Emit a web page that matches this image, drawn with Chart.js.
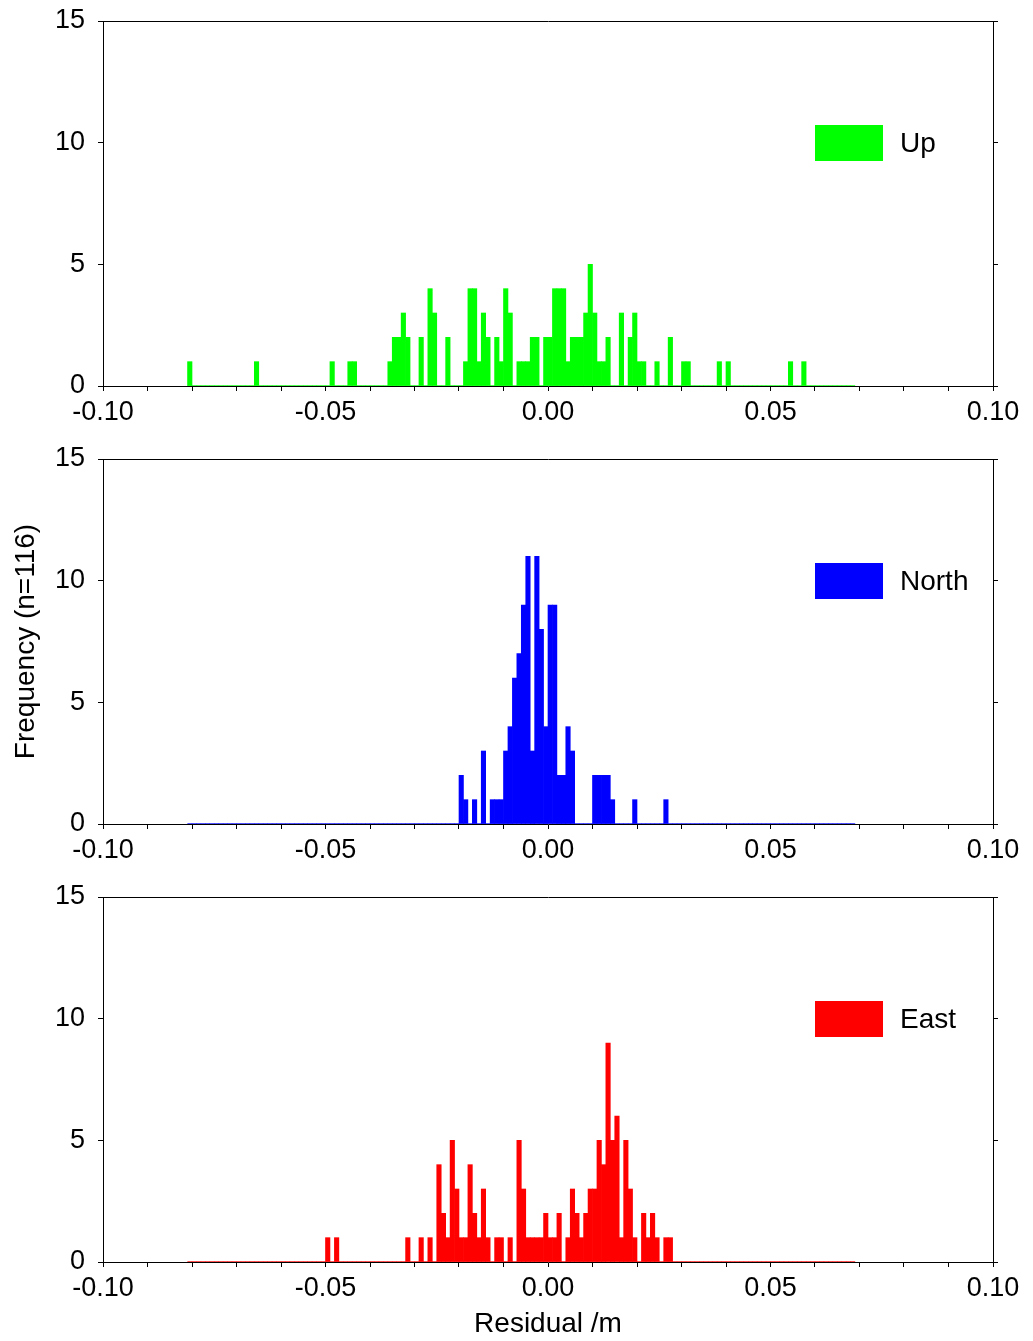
<!DOCTYPE html>
<html>
<head>
<meta charset="utf-8">
<title>Residual histograms</title>
<script src="https://cdn.jsdelivr.net/npm/chart.js@4/dist/chart.umd.min.js"></script>
<style>
  html, body { margin: 0; padding: 0; background: #fff; }
  #wrap { position: relative; width: 1033px; height: 1341px; }
  canvas { position: absolute; left: 0; display: block; }
</style>
</head>
<body>
<div id="wrap">
  <canvas id="cUp" width="1033" height="438" style="top:0px"></canvas>
  <canvas id="cNorth" width="1033" height="438" style="top:438px"></canvas>
  <canvas id="cEast" width="1033" height="465" style="top:876px"></canvas>
</div>
<script>
// Histogram bins: 150 bins of 1 mm starting at -0.081 m
const binStart = -0.081;
const binWidth = 0.001;

// Counts per bin, ten bins per row
const upCounts = [
  1,0,0,0,0,0,0,0,0,0,
  0,0,0,0,0,1,0,0,0,0,
  0,0,0,0,0,0,0,0,0,0,
  0,0,1,0,0,0,1,1,0,0,
  0,0,0,0,0,1,2,2,3,2,
  0,0,2,0,4,3,0,0,2,0,
  0,0,1,4,4,1,3,2,0,2,
  1,4,3,0,1,1,1,2,2,0,
  2,2,4,4,4,1,2,2,2,3,
  5,3,1,1,2,0,0,3,0,2,
  3,1,1,0,0,1,0,0,2,0,
  0,1,1,0,0,0,0,0,0,1,
  0,1,0,0,0,0,0,0,0,0,
  0,0,0,0,0,1,0,0,1,0,
  0,0,0,0,0,0,0,0,0,0
];
const northCounts = [
  0,0,0,0,0,0,0,0,0,0,
  0,0,0,0,0,0,0,0,0,0,
  0,0,0,0,0,0,0,0,0,0,
  0,0,0,0,0,0,0,0,0,0,
  0,0,0,0,0,0,0,0,0,0,
  0,0,0,0,0,0,0,0,0,0,
  0,2,1,0,1,0,3,0,1,1,
  1,3,4,6,7,9,11,3,11,8,
  4,9,9,2,2,4,3,0,0,0,
  0,2,2,2,2,1,0,0,0,0,
  1,0,0,0,0,0,0,1,0,0,
  0,0,0,0,0,0,0,0,0,0,
  0,0,0,0,0,0,0,0,0,0,
  0,0,0,0,0,0,0,0,0,0,
  0,0,0,0,0,0,0,0,0,0
];
const eastCounts = [
  0,0,0,0,0,0,0,0,0,0,
  0,0,0,0,0,0,0,0,0,0,
  0,0,0,0,0,0,0,0,0,0,
  0,1,0,1,0,0,0,0,0,0,
  0,0,0,0,0,0,0,0,0,1,
  0,0,1,0,1,0,4,2,1,5,
  3,1,1,4,2,1,3,1,0,1,
  1,0,1,0,5,3,1,1,1,1,
  2,1,1,2,0,1,3,2,1,2,
  3,3,5,4,9,5,6,1,5,3,
  1,0,2,1,2,1,0,1,1,0,
  0,0,0,0,0,0,0,0,0,0,
  0,0,0,0,0,0,0,0,0,0,
  0,0,0,0,0,0,0,0,0,0,
  0,0,0,0,0,0,0,0,0,0
];

const seriesLabels = ['Up', 'North', 'East'];
const seriesColors = ['#00ff00', '#0000ff', '#ff0000'];
const xTickMin = -0.10, xTickMax = 0.10, xMinorStep = 0.01;
const yTickMin = 0, yTickMax = 15, yStep = 5;
const yTitle = 'Frequency (n=116)';
const xTitle = 'Residual /m';

const FONT = '"Liberation Sans", Arial, Helvetica, sans-serif';
Chart.defaults.font.family = FONT;
Chart.defaults.color = '#000';

// Legend box drawn inside the plot area, right side
const insetLegend = {
  id: 'insetLegend',
  afterDatasetsDraw(chart, args, opts) {
    const ds = chart.data.datasets[0];
    const { ctx, chartArea } = chart;
    const x = chartArea.right - opts.offsetRight;
    const y = chartArea.top + opts.offsetTop;
    ctx.save();
    ctx.fillStyle = ds.backgroundColor;
    ctx.fillRect(x, y, opts.boxWidth, opts.boxHeight);
    ctx.fillStyle = '#000';
    ctx.font = opts.fontSize + 'px ' + FONT;
    ctx.textBaseline = 'middle';
    ctx.textAlign = 'left';
    ctx.fillText(ds.label, x + opts.boxWidth + opts.gap, y + opts.boxHeight / 2 + 1);
    ctx.restore();
  }
};

function xLabel(v) {
  const r = Math.round(v * 100);
  if (r % 5 !== 0) return '';
  return (r / 100).toFixed(2);
}

// Fixed axis sizes so every panel shares the same plot frame
function fixSize(prop, value) {
  return s => {
    s[prop] = value;
    s.paddingTop = 0;
    s.paddingBottom = 0;
    s.paddingLeft = 0;
    s.paddingRight = 0;
  };
}

function buildPanel(canvasId, label, counts, color, showYTitle, showXTitle, xAxisHeight) {
  const bars = counts.map((c, i) => ({ x: binStart + (i + 0.5) * binWidth, y: c }));
  const baseline = [
    { x: binStart, y: 0 },
    { x: binStart + counts.length * binWidth, y: 0 }
  ];
  const tickGrid = {
    display: true,
    drawOnChartArea: false,
    drawTicks: true,
    tickLength: 5,
    color: '#000',
    lineWidth: 1,
    offset: false
  };
  const border = { display: true, color: '#000', width: 1 };

  return new Chart(document.getElementById(canvasId), {
    type: 'bar',
    data: {
      datasets: [
        {
          label: label,
          data: bars,
          backgroundColor: color,
          borderWidth: 0,
          barPercentage: 1.0,
          categoryPercentage: 1.0,
          order: 2
        },
        {
          type: 'line',
          label: label + ' baseline',
          data: baseline,
          borderColor: color,
          borderWidth: 1.2,
          pointRadius: 0,
          fill: false,
          order: 1
        }
      ]
    },
    options: {
      responsive: false,
      animation: false,
      events: [],
      layout: { padding: { left: 0, right: 0, top: 0, bottom: 0 } },
      plugins: {
        legend: { display: false },
        tooltip: { enabled: false },
        insetLegend: { offsetRight: 178, offsetTop: 104, boxWidth: 68, boxHeight: 36, gap: 17, fontSize: 28 }
      },
      scales: {
        x: {
          type: 'linear',
          position: 'bottom',
          min: xTickMin,
          max: xTickMax,
          offset: false,
          grid: tickGrid,
          border: border,
          ticks: {
            stepSize: xMinorStep,
            autoSkip: false,
            maxRotation: 0,
            minRotation: 0,
            padding: 5,
            color: '#000',
            font: { size: 27 },
            callback: xLabel
          },
          title: {
            display: showXTitle,
            text: xTitle,
            color: '#000',
            font: { size: 28 },
            padding: { top: 0, bottom: 0 }
          },
          afterFit: fixSize('height', xAxisHeight)
        },
        xTop: {
          type: 'linear',
          position: 'top',
          min: xTickMin,
          max: xTickMax,
          grid: { display: false },
          ticks: { display: false },
          border: border,
          afterFit: fixSize('height', 21)
        },
        y: {
          type: 'linear',
          position: 'left',
          min: yTickMin,
          max: yTickMax,
          grid: tickGrid,
          border: border,
          ticks: {
            stepSize: yStep,
            padding: 13,
            color: '#000',
            font: { size: 27 }
          },
          title: {
            display: showYTitle,
            text: yTitle,
            color: '#000',
            font: { size: 28 },
            padding: { top: 9, bottom: 0 }
          },
          afterFit: fixSize('width', 103)
        },
        yRight: {
          type: 'linear',
          position: 'right',
          min: yTickMin,
          max: yTickMax,
          grid: tickGrid,
          border: border,
          ticks: { display: false, stepSize: yStep },
          afterFit: fixSize('width', 40)
        }
      }
    },
    plugins: [insetLegend]
  });
}

buildPanel('cUp', seriesLabels[0], upCounts, seriesColors[0], false, false, 52);
buildPanel('cNorth', seriesLabels[1], northCounts, seriesColors[1], true, false, 52);
buildPanel('cEast', seriesLabels[2], eastCounts, seriesColors[2], false, true, 79);
</script>
</body>
</html>
